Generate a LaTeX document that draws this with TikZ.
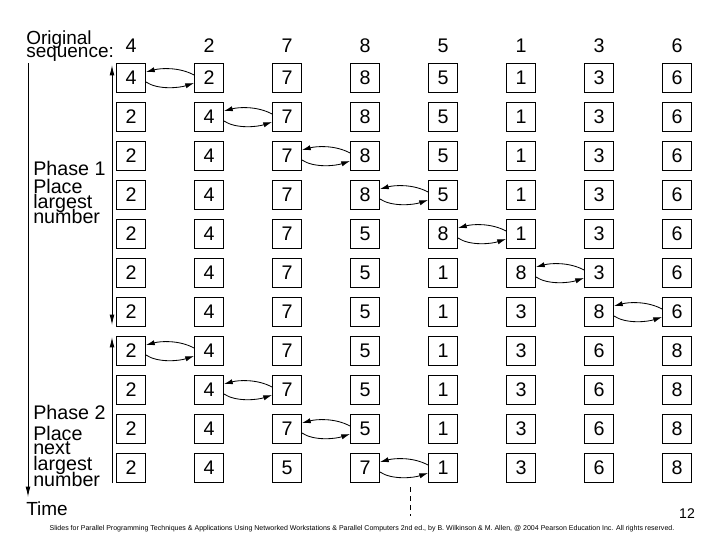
\documentclass[tikz,border=0pt]{standalone}
\usepackage{fontspec}
\setmainfont{Liberation Sans}
\usetikzlibrary{positioning,calc,arrows.meta}
\tikzset{
  cell/.style  = {draw, line width=0.6pt, minimum size=7.25mm, inner sep=0pt,
                  font=\fontsize{14}{14}\selectfont},
  hdr/.style   = {anchor=base, inner sep=0pt, font=\fontsize{14}{14}\selectfont},
  lbl/.style   = {anchor=base west, inner sep=0pt, font=\fontsize{14}{14}\selectfont},
  swp/.style   = {line width=0.6pt, -{Latex[length=2.2mm,width=1.3mm]}},
  tarr/.style  = {line width=0.6pt, -{Latex[length=2.6mm,width=1.2mm]}},
  darr/.style  = {line width=0.6pt, {Latex[length=2.6mm,width=1.2mm]}-{Latex[length=2.6mm,width=1.2mm]}},
  cut/.style   = {line width=0.6pt, dash pattern=on 3.5pt off 3pt},
  foot/.style  = {anchor=base, inner sep=0pt, font=\fontsize{5}{5}\selectfont},
}

\begin{document}
\begin{tikzpicture}[x=0.025cm,y=-0.025cm]
  \useasboundingbox (0,0) rectangle (720,540);
  % header
  \node[lbl, font=\fontsize{13.5}{14}\selectfont] (orig) at (26,44) {Original};
  \node[lbl, font=\fontsize{13.5}{14}\selectfont] (seq) at (26,57) {sequence:};
  \foreach \v [count=\k] in {4,2,7,8,5,1,3,6}
    \node[hdr] (h-\k) at ({131+78*(\k-1)},52) {\v};
  % rows of the sort
  \foreach \vals [count=\r] in {{4,2,7,8,5,1,3,6},{2,4,7,8,5,1,3,6},
      {2,4,7,8,5,1,3,6},{2,4,7,8,5,1,3,6},{2,4,7,5,8,1,3,6},
      {2,4,7,5,1,8,3,6},{2,4,7,5,1,3,8,6},{2,4,7,5,1,3,6,8},
      {2,4,7,5,1,3,6,8},{2,4,7,5,1,3,6,8},{2,4,5,7,1,3,6,8}}
    \foreach \v [count=\k] in \vals
      \node[cell] (c-\r-\k) at ({131+78*(\k-1)},{78+39*(\r-1)}) {\v};
  % compare and exchange
  \foreach \r/\k in {1/1,2/2,3/3,4/4,5/5,6/6,7/7,8/1,9/2,10/3,11/4} {
    \pgfmathtruncatemacro\j{\k+1}
    \draw[swp] ($(c-\r-\j.west)+(0,-3)$)..controls+(-15,-8)and+(15,-4)..($(c-\r-\k.east)+(0,-6)$);
    \draw[swp] ($(c-\r-\k.east)+(0,4)$)..controls+(12,8)and+(-15,5)..($(c-\r-\j.west)+(0,5)$);
  }
  % time axis
  \coordinate (t0) at (28,63);
  \coordinate (t1) at (28,497);
  \draw[tarr] (t0)--(t1);
  \node[lbl, font=\fontsize{13.5}{14}\selectfont] (time) at (26,515) {Time};
  % phases
  \coordinate (p1a) at (112,65);
  \coordinate (p1b) at (112,325);
  \draw[darr] (p1a)--(p1b);
  \coordinate (p2a) at (112,337);
  \coordinate (p2b) at (112,483);
  \draw[tarr] (p2b)--(p2a);
  \node[lbl] (ph1) at (33,175) {Phase 1};
  \node[lbl] (ph1a) at (33,193) {Place};
  \node[lbl] (ph1b) at (33,208) {largest};
  \node[lbl] (ph1c) at (33,223) {number};
  \node[lbl] (ph2) at (33,419) {Phase 2};
  \node[lbl] (ph2a) at (33,440) {Place};
  \node[lbl] (ph2b) at (33,454) {next};
  \node[lbl] (ph2c) at (33,470) {largest};
  \node[lbl] (ph2d) at (33,486) {number};
  % cut
  \coordinate (d0) at (410,487);
  \coordinate (d1) at (410,516);
  \draw[cut] (d0)--(d1);
  % page
  \node[hdr, font=\fontsize{10}{10}\selectfont] (pg) at (687,518) {12};
  \node[foot] (credit) at (362,530) {Slides for Parallel Programming Techniques \& Applications Using Networked Workstations \& Parallel Computers 2nd ed., by B. Wilkinson \& M. Allen, @ 2004 Pearson Education Inc. All rights reserved.};
\end{tikzpicture}
\end{document}
